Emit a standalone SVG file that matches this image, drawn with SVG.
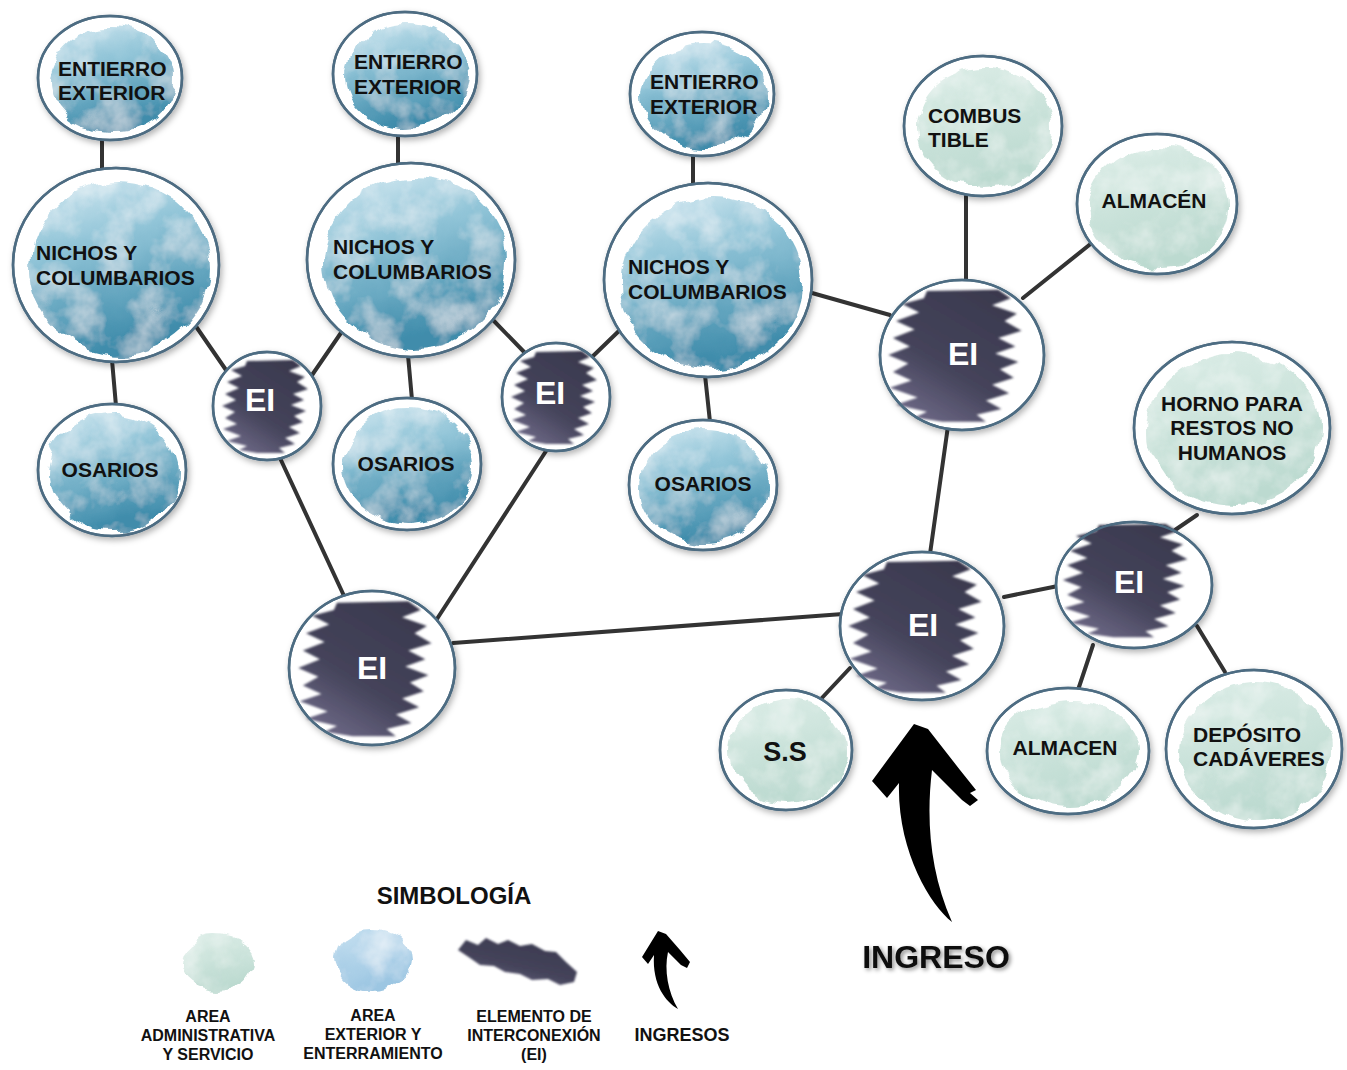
<svg xmlns="http://www.w3.org/2000/svg" xmlns:xlink="http://www.w3.org/1999/xlink" width="1347" height="1070" viewBox="0 0 1347 1070">
<defs>
  <linearGradient id="gBlue" x1="0" y1="0" x2="0.3" y2="1">
    <stop offset="0" stop-color="#d5eaf2"/>
    <stop offset="0.4" stop-color="#92c5d8"/>
    <stop offset="1" stop-color="#3f8cab"/>
  </linearGradient>
  <linearGradient id="gGreen" x1="0" y1="0" x2="0.3" y2="1">
    <stop offset="0" stop-color="#dcede7"/>
    <stop offset="1" stop-color="#bcdad0"/>
  </linearGradient>
  <linearGradient id="gLegBlue" x1="0" y1="0" x2="0.3" y2="1">
    <stop offset="0" stop-color="#c4dff0"/>
    <stop offset="1" stop-color="#9cc6e2"/>
  </linearGradient>
  <linearGradient id="gDark" x1="0.8" y1="0" x2="0.2" y2="1">
    <stop offset="0" stop-color="#3a394e"/>
    <stop offset="0.6" stop-color="#45445b"/>
    <stop offset="1" stop-color="#6f6a88"/>
  </linearGradient>
  <filter id="wc" x="-15%" y="-15%" width="130%" height="130%">
    <feTurbulence type="fractalNoise" baseFrequency="0.035" numOctaves="3" seed="4" result="n"/>
    <feDisplacementMap in="SourceGraphic" in2="n" scale="16" xChannelSelector="R" yChannelSelector="G" result="d"/>
    <feTurbulence type="fractalNoise" baseFrequency="0.03" numOctaves="4" seed="9" result="n2"/>
    <feColorMatrix in="n2" type="matrix" values="0 0 0 0 1  0 0 0 0 1  0 0 0 0 1  1.0 0 0 0 -0.42" result="spots"/>
    <feComposite in="spots" in2="d" operator="in" result="sp"/>
    <feMerge><feMergeNode in="d"/><feMergeNode in="sp"/></feMerge>
  </filter>
  <filter id="br" x="-10%" y="-10%" width="120%" height="120%">
    <feGaussianBlur stdDeviation="0.8"/>
  </filter>
  <filter id="sh" x="-20%" y="-20%" width="140%" height="140%">
    <feDropShadow dx="2" dy="3" stdDeviation="3" flood-color="#000" flood-opacity="0.3"/>
  </filter>
  <filter id="tsh" x="-10%" y="-30%" width="120%" height="160%">
    <feDropShadow dx="2" dy="2" stdDeviation="2" flood-color="#000" flood-opacity="0.45"/>
  </filter>
  <path id="brush" fill="url(#gDark)" filter="url(#br)" d="M-20,-45 L26,-46 L34,-40 L22,-35 L38,-29 L30,-24 L41,-17 L26,-12 L37,-6 L24,-1 L39,5 L27,10 L36,16 L22,21 L33,27 L18,32 L28,38 L12,42 L18,47 L-10,47 L-28,44 L-20,40 L-40,35 L-26,30 L-44,23 L-30,18 L-42,12 L-32,6 L-45,0 L-31,-6 L-42,-12 L-28,-18 L-40,-24 L-25,-30 L-36,-36 L-22,-40 Z"/>
  <style>
    .ring{fill:#fff;stroke:#4d6c82;stroke-width:2.5;filter:url(#sh)}
    .edge{stroke:#333;stroke-width:4;fill:none;stroke-linecap:round}
    .blue{fill:url(#gBlue);filter:url(#wc)}
    .green{fill:url(#gGreen);filter:url(#wc)}
    text{font-family:"Liberation Sans",Arial,Helvetica,sans-serif;font-weight:bold;fill:#111}
    .t{font-size:21px}
    .c{text-anchor:middle}
    .ei{font-size:32px;fill:#fff;text-anchor:middle}
    .leg{font-size:16px;text-anchor:middle}
  </style>
</defs>
<rect width="1347" height="1070" fill="#fff"/>

<g id="connectors">
  <line class="edge" x1="102" y1="140" x2="102" y2="172"/>
  <line class="edge" x1="112" y1="360" x2="116" y2="406"/>
  <line class="edge" x1="195" y1="325" x2="226" y2="370"/>
  <line class="edge" x1="310" y1="378" x2="345" y2="327"/>
  <line class="edge" x1="398" y1="136" x2="398" y2="166"/>
  <line class="edge" x1="408" y1="355" x2="412" y2="400"/>
  <line class="edge" x1="493" y1="320" x2="527" y2="355"/>
  <line class="edge" x1="592" y1="357" x2="622" y2="328"/>
  <line class="edge" x1="693" y1="156" x2="693" y2="186"/>
  <line class="edge" x1="705" y1="375" x2="710" y2="422"/>
  <line class="edge" x1="812" y1="293" x2="890" y2="315"/>
  <line class="edge" x1="966" y1="282" x2="966" y2="196"/>
  <line class="edge" x1="1023" y1="298" x2="1093" y2="242"/>
  <line class="edge" x1="280" y1="458" x2="345" y2="598"/>
  <line class="edge" x1="548" y1="448" x2="435" y2="622"/>
  <line class="edge" x1="453" y1="643" x2="843" y2="614"/>
  <line class="edge" x1="948" y1="426" x2="930" y2="554"/>
  <line class="edge" x1="1004" y1="597" x2="1058" y2="586"/>
  <line class="edge" x1="1175" y1="530" x2="1197" y2="515"/>
  <line class="edge" x1="1093" y1="645" x2="1078" y2="690"/>
  <line class="edge" x1="1197" y1="626" x2="1225" y2="672"/>
  <line class="edge" x1="850" y1="668" x2="820" y2="700"/>
</g>

<!-- Blue nodes -->
<g id="entierro1">
  <ellipse class="ring" cx="110" cy="78" rx="72" ry="62"/>
  <ellipse class="blue" cx="112" cy="80" rx="62" ry="53"/>
  <ellipse cx="110" cy="78" rx="72" ry="62" fill="none" stroke="#4d6c82" stroke-width="2.5"/>
  <text class="t" x="58" y="76">ENTIERRO</text>
  <text class="t" x="58" y="100">EXTERIOR</text>
</g>
<g id="entierro2">
  <ellipse class="ring" cx="405" cy="74" rx="72" ry="62"/>
  <ellipse class="blue" cx="407" cy="76" rx="62" ry="53"/>
  <ellipse cx="405" cy="74" rx="72" ry="62" fill="none" stroke="#4d6c82" stroke-width="2.5"/>
  <text class="t" x="354" y="69">ENTIERRO</text>
  <text class="t" x="354" y="94">EXTERIOR</text>
</g>
<g id="entierro3">
  <ellipse class="ring" cx="702" cy="94" rx="72" ry="62"/>
  <ellipse class="blue" cx="704" cy="96" rx="62" ry="53"/>
  <ellipse cx="702" cy="94" rx="72" ry="62" fill="none" stroke="#4d6c82" stroke-width="2.5"/>
  <text class="t" x="650" y="89">ENTIERRO</text>
  <text class="t" x="650" y="114">EXTERIOR</text>
</g>
<g id="nichos1">
  <ellipse class="ring" cx="116" cy="265" rx="103" ry="97"/>
  <ellipse class="blue" cx="120" cy="268" rx="90" ry="86"/>
  <ellipse cx="116" cy="265" rx="103" ry="97" fill="none" stroke="#4d6c82" stroke-width="2.5"/>
  <text class="t" x="36" y="260">NICHOS Y</text>
  <text class="t" x="36" y="285">COLUMBARIOS</text>
</g>
<g id="nichos2">
  <ellipse class="ring" cx="411" cy="260" rx="104" ry="97"/>
  <ellipse class="blue" cx="415" cy="263" rx="91" ry="86"/>
  <ellipse cx="411" cy="260" rx="104" ry="97" fill="none" stroke="#4d6c82" stroke-width="2.5"/>
  <text class="t" x="333" y="254">NICHOS Y</text>
  <text class="t" x="333" y="279">COLUMBARIOS</text>
</g>
<g id="nichos3">
  <ellipse class="ring" cx="708" cy="280" rx="104" ry="97"/>
  <ellipse class="blue" cx="712" cy="283" rx="91" ry="86"/>
  <ellipse cx="708" cy="280" rx="104" ry="97" fill="none" stroke="#4d6c82" stroke-width="2.5"/>
  <text class="t" x="628" y="274">NICHOS Y</text>
  <text class="t" x="628" y="299">COLUMBARIOS</text>
</g>
<g id="osarios1">
  <ellipse class="ring" cx="112" cy="470" rx="74" ry="66"/>
  <ellipse class="blue" cx="113" cy="472" rx="65" ry="58"/>
  <ellipse cx="112" cy="470" rx="74" ry="66" fill="none" stroke="#4d6c82" stroke-width="2.5"/>
  <text class="t c" x="110" y="477">OSARIOS</text>
</g>
<g id="osarios2">
  <ellipse class="ring" cx="407" cy="464" rx="74" ry="66"/>
  <ellipse class="blue" cx="408" cy="466" rx="65" ry="58"/>
  <ellipse cx="407" cy="464" rx="74" ry="66" fill="none" stroke="#4d6c82" stroke-width="2.5"/>
  <text class="t c" x="406" y="471">OSARIOS</text>
</g>
<g id="osarios3">
  <ellipse class="ring" cx="703" cy="485" rx="74" ry="65"/>
  <ellipse class="blue" cx="704" cy="487" rx="65" ry="57"/>
  <ellipse cx="703" cy="485" rx="74" ry="65" fill="none" stroke="#4d6c82" stroke-width="2.5"/>
  <text class="t c" x="703" y="491">OSARIOS</text>
</g>

<!-- EI nodes -->
<g id="ei1">
  <ellipse class="ring" cx="267" cy="406" rx="54" ry="54"/>
  <use xlink:href="#brush" href="#brush" transform="translate(267,406) scale(1.0,1.0)"/>
  <ellipse cx="267" cy="406" rx="54" ry="54" fill="none" stroke="#4d6c82" stroke-width="2.5"/>
  <text class="ei" x="260" y="411">EI</text>
</g>
<g id="ei2">
  <ellipse class="ring" cx="556" cy="397" rx="54" ry="54"/>
  <use xlink:href="#brush" href="#brush" transform="translate(556,397) scale(1.0,1.0)"/>
  <ellipse cx="556" cy="397" rx="54" ry="54" fill="none" stroke="#4d6c82" stroke-width="2.5"/>
  <text class="ei" x="550" y="404">EI</text>
</g>
<g id="ei3">
  <ellipse class="ring" cx="372" cy="668" rx="83" ry="77"/>
  <use xlink:href="#brush" href="#brush" transform="translate(368,668) scale(1.55,1.45)"/>
  <ellipse cx="372" cy="668" rx="83" ry="77" fill="none" stroke="#4d6c82" stroke-width="2.5"/>
  <text class="ei" x="372" y="679">EI</text>
</g>
<g id="ei4">
  <ellipse class="ring" cx="962" cy="355" rx="82" ry="75"/>
  <use xlink:href="#brush" href="#brush" transform="translate(958,355) scale(1.55,1.42)"/>
  <ellipse cx="962" cy="355" rx="82" ry="75" fill="none" stroke="#4d6c82" stroke-width="2.5"/>
  <text class="ei" x="963" y="365">EI</text>
</g>
<g id="ei5">
  <ellipse class="ring" cx="922" cy="626" rx="82" ry="74"/>
  <use xlink:href="#brush" href="#brush" transform="translate(918,626) scale(1.55,1.42)"/>
  <ellipse cx="922" cy="626" rx="82" ry="74" fill="none" stroke="#4d6c82" stroke-width="2.5"/>
  <text class="ei" x="923" y="636">EI</text>
</g>
<g id="ei6">
  <ellipse class="ring" cx="1134" cy="585" rx="78" ry="63"/>
  <use xlink:href="#brush" href="#brush" transform="translate(1128,580) scale(1.45,1.22)"/>
  <ellipse cx="1134" cy="585" rx="78" ry="63" fill="none" stroke="#4d6c82" stroke-width="2.5"/>
  <text class="ei" x="1129" y="593">EI</text>
</g>

<!-- Green nodes -->
<g id="combustible">
  <ellipse class="ring" cx="983" cy="126" rx="79" ry="70"/>
  <ellipse class="green" cx="985" cy="128" rx="69" ry="61"/>
  <ellipse cx="983" cy="126" rx="79" ry="70" fill="none" stroke="#4d6c82" stroke-width="2.5"/>
  <text class="t" x="928" y="123">COMBUS</text>
  <text class="t" x="928" y="147">TIBLE</text>
</g>
<g id="almacen1">
  <ellipse class="ring" cx="1157" cy="204" rx="80" ry="70"/>
  <ellipse class="green" cx="1159" cy="206" rx="70" ry="61"/>
  <ellipse cx="1157" cy="204" rx="80" ry="70" fill="none" stroke="#4d6c82" stroke-width="2.5"/>
  <text class="t c" x="1154" y="208">ALMACÉN</text>
</g>
<g id="horno">
  <ellipse class="ring" cx="1232" cy="428" rx="98" ry="86"/>
  <ellipse class="green" cx="1234" cy="430" rx="86" ry="76"/>
  <ellipse cx="1232" cy="428" rx="98" ry="86" fill="none" stroke="#4d6c82" stroke-width="2.5"/>
  <text class="t c" x="1232" y="411">HORNO PARA</text>
  <text class="t c" x="1232" y="435">RESTOS NO</text>
  <text class="t c" x="1232" y="460">HUMANOS</text>
</g>
<g id="ss">
  <ellipse class="ring" cx="786" cy="750" rx="66" ry="60"/>
  <ellipse class="green" cx="787" cy="752" rx="57" ry="52"/>
  <ellipse cx="786" cy="750" rx="66" ry="60" fill="none" stroke="#4d6c82" stroke-width="2.5"/>
  <text class="c" x="785" y="761" style="font-size:27px">S.S</text>
</g>
<g id="almacen2">
  <ellipse class="ring" cx="1068" cy="751" rx="81" ry="63"/>
  <ellipse class="green" cx="1070" cy="753" rx="70" ry="54"/>
  <ellipse cx="1068" cy="751" rx="81" ry="63" fill="none" stroke="#4d6c82" stroke-width="2.5"/>
  <text class="t c" x="1065" y="755">ALMACEN</text>
</g>
<g id="deposito">
  <ellipse class="ring" cx="1254" cy="749" rx="88" ry="79"/>
  <ellipse class="green" cx="1256" cy="751" rx="77" ry="69"/>
  <ellipse cx="1254" cy="749" rx="88" ry="79" fill="none" stroke="#4d6c82" stroke-width="2.5"/>
  <text class="t" x="1193" y="742">DEPÓSITO</text>
  <text class="t" x="1193" y="766">CADÁVERES</text>
</g>

<!-- Entrance arrow -->
<g id="ingreso">
  <path fill="#000" d="M914,724 L928,729 L960,770 L976,790 L970,793 L978,800 L970,806 L962,800 L932,770 C926,820 930,872 952,922 C930,905 897,850 899,783 L887,798 L872,781 Z"/>
  <text x="936" y="968" text-anchor="middle" style="font-size:32px;filter:url(#tsh)">INGRESO</text>
</g>

<!-- Legend -->
<g id="legend">
  <text class="c" x="454" y="904" style="font-size:24px">SIMBOLOGÍA</text>
  <ellipse cx="218" cy="962" rx="36" ry="28" fill="url(#gGreen)" filter="url(#wc)"/>
  <ellipse cx="374" cy="960" rx="38" ry="30" fill="url(#gLegBlue)" filter="url(#wc)"/>
  <path fill="url(#gDark)" filter="url(#br)" d="M458,950 L466,940 L478,945 L486,938 L498,944 L508,940 L520,946 L532,944 L545,951 L556,952 L566,962 L577,972 L574,982 L560,985 L548,979 L532,980 L520,974 L505,972 L494,966 L480,965 L470,958 Z"/>
  <path fill="#000" d="M658,931 L666,934 L680,950 L690,962 L687,968 L681,965 L668,952 C664,970 668,992 678,1009 C666,1002 652,985 654,955 L648,964 L642,957 Z"/>
  <text class="leg" x="208" y="1022">AREA</text>
  <text class="leg" x="208" y="1041">ADMINISTRATIVA</text>
  <text class="leg" x="208" y="1060">Y SERVICIO</text>
  <text class="leg" x="373" y="1021">AREA</text>
  <text class="leg" x="373" y="1040">EXTERIOR Y</text>
  <text class="leg" x="373" y="1059">ENTERRAMIENTO</text>
  <text class="leg" x="534" y="1022">ELEMENTO DE</text>
  <text class="leg" x="534" y="1041">INTERCONEXIÓN</text>
  <text class="leg" x="534" y="1060">(EI)</text>
  <text class="c" x="682" y="1041" style="font-size:18px">INGRESOS</text>
</g>
</svg>
